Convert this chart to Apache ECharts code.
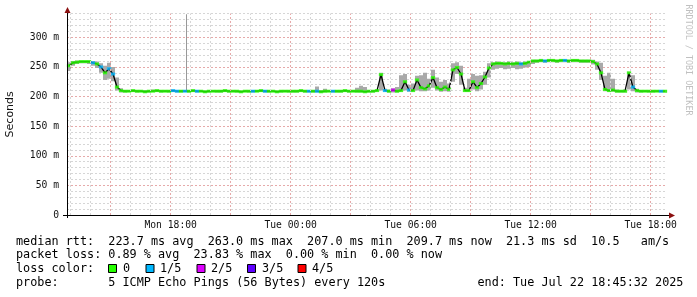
<!DOCTYPE html>
<html>
<head>
<meta charset="utf-8">
<script src="https://cdn.jsdelivr.net/npm/echarts@6/dist/echarts.min.js"></script>
<style>
html,body{margin:0;padding:0;background:#fff;}
#c{width:697px;height:297px;}
</style>
</head>
<body>
<div id="c"></div>
<script>
// ---- data ----
// 150 consolidated steps of 12 minutes, Mon Jul 21 12:49 -> Tue Jul 22 18:49
const median = [
 252,257,258,259,259,259,257,255,250,240,247,238,216,210,
 209,209,210,209,209,208,209,209,210,209,209,209,210,209,209,209,
 209,210,209,209,208,209,209,209,209,210,209,209,209,208,209,209,
 209,209,210,209,209,209,208,209,209,209,209,209,210,209,209,209,
 209,208,209,209,209,209,209,210,209,209,209,209,208,209,209,210,
 237,210,209,211,209,210,225,211,210,228,215,213,218,232,215,212,
 216,212,245,249,238,210,210,225,215,222,233,248,255,256,256,255,
 256,255,256,255,256,258,260,260,261,260,261,261,260,261,261,260,
 261,261,260,260,260,259,255,240,212,210,211,209,209,209,240,216,
 210,209,209,209,209,209,209,209
];
const smokeLo = [
 243,252,255,256,256,255,252,248,240,228,230,226,210,207,
 207,208,208,207,208,207,207,208,208,207,208,207,208,207,207,208,
 207,208,207,208,207,207,208,207,207,208,207,208,207,207,208,207,
 207,208,208,207,207,208,207,207,208,207,207,207,208,207,207,207,
 207,207,207,208,207,207,207,208,207,208,207,207,207,207,207,208,
 210,208,207,207,207,208,210,208,208,210,209,209,210,215,210,208,
 209,208,225,238,220,208,208,212,209,212,220,232,245,247,248,246,
 247,248,246,247,249,250,255,257,258,257,258,258,257,258,258,257,
 258,258,257,257,257,254,245,228,209,208,208,207,207,207,212,209,
 207,207,208,207,207,208,207,207
];
const smokeHi = [
 258,260,261,261,261,261,260,259,256,252,257,250,232,214,
 211,211,212,211,211,211,211,212,212,211,211,211,212,211,211,211,
 211,212,211,211,210,211,211,211,211,212,211,211,211,210,211,211,
 211,211,212,211,211,211,210,211,211,211,211,211,212,211,211,211,
 217,211,213,211,211,211,211,212,211,211,215,218,216,211,211,212,
 240,213,212,214,216,236,238,220,222,235,236,240,230,245,232,225,
 228,222,256,258,252,215,230,238,235,236,242,256,258,259,258,258,
 259,258,259,258,259,260,262,262,263,262,263,263,262,263,263,262,
 263,263,262,262,262,262,259,257,235,240,230,212,211,212,242,236,
 213,211,211,211,211,211,211,211
];
// 0 = no loss, 1 = 1/5, 2 = 2/5 ...
const lossIdx = [
 0,0,0,0,0,0,1,0,1,0,1,1,0,0,
 0,0,0,0,0,0,0,0,0,0,0,0,1,1,0,1,
 0,0,1,0,0,0,0,0,0,0,0,0,0,0,0,0,
 1,0,0,1,0,0,0,0,0,0,0,0,0,0,1,0,
 1,0,0,0,1,0,0,0,0,0,0,0,0,0,0,0,
 0,1,0,2,0,0,0,1,0,0,0,0,0,0,0,0,
 0,0,0,0,0,0,0,0,0,0,0,0,0,0,0,0,
 0,0,0,1,0,0,0,0,0,1,0,0,0,0,1,0,
 0,0,0,0,0,0,0,0,0,0,0,0,0,0,0,1,
 0,0,0,0,0,0,1,0
];
// single-sample outliers of the smoke: [step index, low, high]
const smokeSpikes = [[29.25, 208, 339]];

const lossColors = ['#26ff00','#00b8ff','#dd00ff','#5e00ff','#ff0000'];
const lossLabels = ['0','1/5','2/5','3/5','4/5'];
const yTickLabelsEvery = 50;
const xLabelHours = ['2025-07-21T18:00Z','2025-07-22T00:00Z','2025-07-22T06:00Z','2025-07-22T12:00Z','2025-07-22T18:00Z'];

// legend text pieces: [text, character column]
const rttRow = [['median rtt:',0],['223.7 ms avg',13],['263.0 ms max',27],['207.0 ms min',41],['209.7 ms now',55],['21.3 ms sd',69],['10.5',81],['am/s',88]];
const lossRow = [['packet loss:',0],['0.89 % avg',13],['23.83 % max',25],['0.00 % min',38],['0.00 % now',50]];
const colorRow = [['loss color:',0]];
const probeRow = [['probe:',0],['5 ICMP Echo Pings (56 Bytes) every 120s',13],['end: Tue Jul 22 18:45:32 2025',65]];

// ---- setup ----
const T0 = Date.UTC(2025,6,21,12,49);
const STEP = 12*60000;
const T1 = T0 + 150*STEP;
const tAt = i => T0 + (i + 0.5)*STEP;

const medianData = median.map((v,i)=>[tAt(i), v]);
const markerData = median.map((v,i)=>[tAt(i), v, lossIdx[i]]);
const smokeData = median.map((v,i)=>[tAt(i), smokeLo[i], smokeHi[i]]);
const spikeData = smokeSpikes.map(s=>[tAt(s[0]), s[1], s[2]]);

const days = ['Sun','Mon','Tue','Wed','Thu','Fri','Sat'];
const pad = n => (n<10?'0':'')+n;
function fmtT(v){ const d=new Date(v); return days[d.getUTCDay()]+' '+pad(d.getUTCHours())+':'+pad(d.getUTCMinutes()); }

const vGrid = [];
for (let h = Date.UTC(2025,6,21,13); h < T1; h += 3600000) {
  const major = new Date(h).getUTCHours() % 3 === 0;
  vGrid.push({xAxis: h, lineStyle: {color: major ? '#e6aaaa' : '#d6d6d6', type: [2,2], width: 1}});
}

const mono = '"DejaVu Sans Mono", monospace';
const CW = 7.1, X0 = 16;
const graphics = [];
function txt(s,x,y,extra){ graphics.push(Object.assign({type:'text', x:x, y:y, silent:true, style:{text:s, font:'11.8px '+mono, fill:'#000', textVerticalAlign:'middle'}}, extra||{})); }
function row(pieces, y){ pieces.forEach(p=>txt(p[0], X0 + p[1]*CW, y)); }
row(rttRow, 241.5);
row(lossRow, 255.3);
row(colorRow, 269);
row(probeRow, 282.8);
const boxX=[108.5,146,197,247.5,298], labX=[123,160,211,262,312];
lossColors.forEach((c,i)=>{
  graphics.push({type:'rect', silent:true, shape:{x:boxX[i], y:264.5, width:8, height:8}, style:{fill:c, stroke:'#000', lineWidth:1}});
  txt(lossLabels[i], labX[i], 269);
});
// watermark
graphics.push({type:'text', x:688, y:60, rotation:-Math.PI/2, silent:true, style:{text:'RRDTOOL / TOBI OETIKER', font:'8.4px '+mono, fill:'#c0c0c0', textAlign:'center', textVerticalAlign:'middle'}});
// axis lines with arrows
graphics.push({type:'line', silent:true, z:100, shape:{x1:63, y1:215.5, x2:670, y2:215.5}, style:{stroke:'#000', lineWidth:1}});
graphics.push({type:'line', silent:true, z:100, shape:{x1:67.5, y1:11, x2:67.5, y2:218}, style:{stroke:'#000', lineWidth:1}});
graphics.push({type:'polygon', silent:true, z:101, shape:{points:[[67.5,7],[64.5,13],[70.5,13]]}, style:{fill:'#8b1010'}});
graphics.push({type:'polygon', silent:true, z:101, shape:{points:[[675,215.5],[669,212.5],[669,218.5]]}, style:{fill:'#8b1010'}});

function smokeItem(width){
  return function(params, api){
    const x = api.value(0), lo = api.value(1), hi = api.value(2);
    const c = api.coord([x, hi]);
    const d = api.coord([x, lo]);
    const w = width || api.size([STEP, 0])[0];
    const left = width ? Math.round(c[0]) : c[0]-w/2;
    return {type:'rect', shape:{x:left, y:c[1], width:w, height:Math.max(1, d[1]-c[1])}, style:{fill: width ? '#999999' : '#a9a9a9'}};
  };
}

const chart = echarts.init(document.getElementById('c'), null, {renderer:'canvas'});
chart.setOption({
  animation:false,
  backgroundColor:'#fff',
  grid:{left:67, right:30, top:13.6, bottom:82, containLabel:false, outerBoundsMode:'none'},
  xAxis:{
    type:'value', min:T0, max:T1,
    axisLine:{show:false}, axisTick:{show:false}, splitLine:{show:false},
    axisLabel:{customValues: xLabelHours.map(s=>Date.parse(s)), formatter: fmtT, margin:5, fontFamily:'DejaVu Sans Mono', fontSize:9.7, color:'#111'}
  },
  yAxis:{
    type:'value', min:0, max:340, interval:10,
    name:'Seconds', nameLocation:'middle', nameGap:51, nameTextStyle:{fontFamily:'DejaVu Sans', fontSize:11, color:'#111'},
    axisLine:{show:false}, axisTick:{show:false},
    axisLabel:{margin:8, fontFamily:'DejaVu Sans Mono', fontSize:9.7, color:'#111',
      formatter: v => v % yTickLabelsEvery === 0 ? (v===0 ? '0' : v+' m') : ''},
    splitLine:{show:true, lineStyle:{color:['#e6aaaa','#d6d6d6','#d6d6d6','#d6d6d6','#d6d6d6'], type:[2,2], width:1}}
  },
  series:[
    {type:'line', data:[], z:1, silent:true, markLine:{silent:true, symbol:['none','none'], label:{show:false}, animation:false, data:vGrid}},
    {type:'custom', data:smokeData, renderItem:smokeItem(0), encode:{x:0, y:[1,2]}, z:2, clip:true, silent:true},
    {type:'custom', data:spikeData, renderItem:smokeItem(1), encode:{x:0, y:[1,2]}, z:2, clip:true, silent:true},
    {type:'line', data:medianData, showSymbol:false, z:3, lineStyle:{color:'#000', width:1.3}, silent:true},
    {type:'scatter', data:markerData, symbol:'rect', symbolSize:[4.3,3], z:4, silent:true,
      itemStyle:{color: p => lossColors[p.value[2]]}}
  ],
  graphic: graphics
});
</script>
</body>
</html>
